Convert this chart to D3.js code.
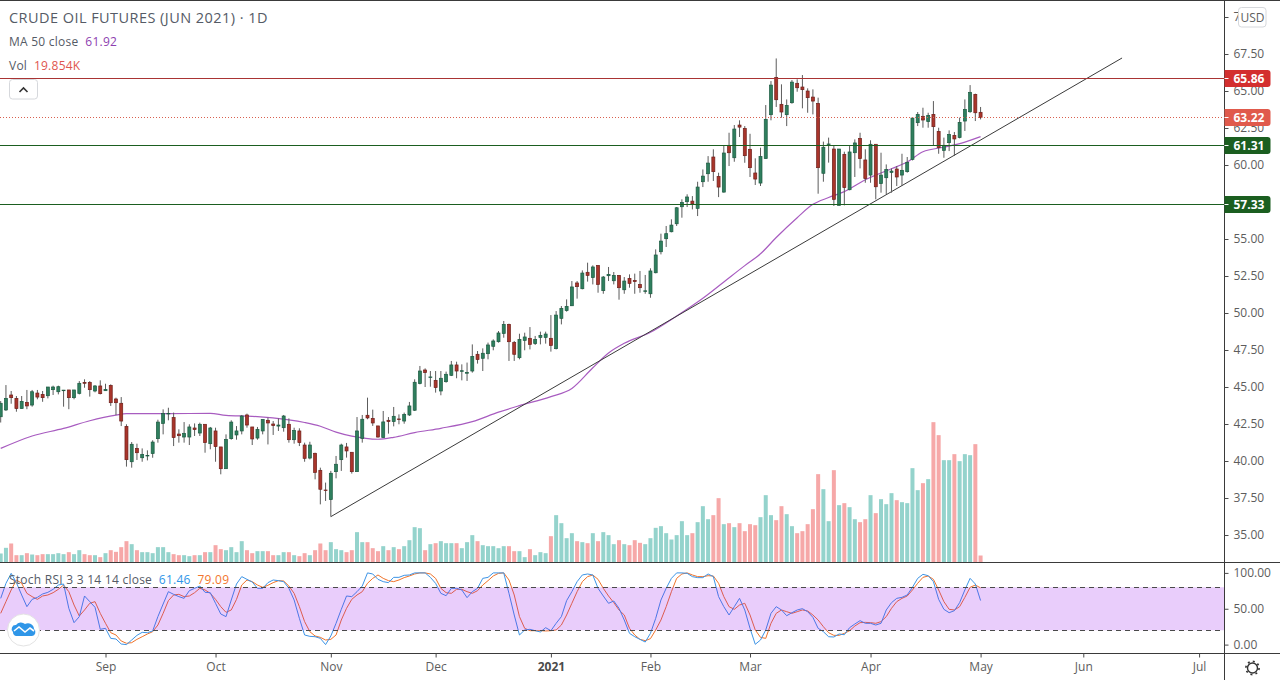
<!DOCTYPE html>
<html>
<head>
<meta charset="utf-8">
<title>Crude Oil Futures</title>
<script src="https://cdnjs.cloudflare.com/ajax/libs/d3/7.8.5/d3.min.js"></script>
<style>
  html, body { margin: 0; padding: 0; background: #fff; }
  svg { display: block; }
  text { font-family: "Open Sans", sans-serif; }
</style>
</head>
<body>
<svg id="chart" width="1280" height="680"></svg>
<script>
// daily bars
const opens = [42.99,43.45,44.46,44.23,43.54,43.96,43.78,44.59,44.5,44.41,44.82,44.68,44.78,44.8,44.28,44.57,45.31,45.31,44.73,45.07,
  44.75,45.11,44.19,43.9,42.34,39.95,40.85,40.22,40.37,40.5,41.51,42.54,43.18,42.93,41.82,41.62,41.62,42.23,41.89,42.48,
  41.17,42.03,40.95,39.48,41.51,41.76,42.03,43.11,42.3,41.55,42.03,42.75,42.5,42.36,42.25,42.48,41.44,42.03,41.08,40.2,
  40.52,39.37,38.04,37.39,39.28,40.09,40.95,40.59,39.28,41.53,43.09,42.88,42.37,41.58,42.75,42.66,42.84,42.7,43.11,43.43,
  45.23,46.15,45.66,45.45,44.73,45.36,45.79,46.49,46.07,45.95,46.08,47.21,46.94,47.25,47.75,48.06,48.62,49.23,48.0,46.98,
  48.15,48.29,47.93,48.35,48.35,48.29,47.59,49.64,50.16,50.49,52.03,51.64,52.75,52.39,53.22,51.51,52.52,52.18,52.54,51.57,
  52.34,52.2,51.93,51.49,51.3,52.72,54.14,55.02,55.49,56.03,57.18,57.52,57.56,57.07,58.87,59.41,60.54,59.23,58.17,61.33,
  60.49,62.7,62.47,61.06,59.46,58.78,60.43,63.4,65.92,64.1,63.4,64.21,65.52,65.27,65.0,64.59,64.16,59.44,61.4,61.08,
  57.27,60.72,58.33,60.83,61.8,60.34,59.32,61.4,58.74,59.14,59.5,59.73,59.32,59.55,60.38,62.86,63.29,62.93,63.42,62.27,
  60.99,61.51,62.0,61.85,62.97,63.6,64.77,63.56];
const highs = [44.05,45.13,44.73,44.39,44.39,44.8,44.8,44.8,44.73,45.0,45.09,45.09,44.8,44.8,44.8,45.4,45.52,45.4,45.13,45.45,
  45.22,45.18,44.28,44.32,42.48,41.28,41.17,40.85,40.72,41.4,42.79,43.49,43.6,43.27,42.14,42.63,42.48,42.54,42.59,42.48,
  42.3,42.25,40.95,41.8,42.75,42.36,43.11,43.2,42.3,42.3,42.81,42.93,42.7,42.88,43.11,42.88,42.25,42.21,41.24,41.3,
  40.56,39.55,38.54,39.33,40.34,41.17,41.22,40.59,42.97,43.11,44.28,43.47,42.37,43.38,42.97,43.65,43.15,43.27,43.99,45.52,
  46.42,46.26,46.08,46.08,46.08,46.04,46.76,46.71,46.53,46.65,47.88,47.43,47.61,48.0,48.22,48.78,49.46,49.28,48.11,48.6,
  48.67,49.05,48.45,48.74,48.74,49.86,50.13,50.47,50.92,52.16,52.16,52.88,53.4,53.22,53.22,52.5,53.11,52.77,52.57,52.43,
  52.61,52.66,52.84,52.57,53.02,54.3,55.36,55.88,56.33,57.16,57.68,58.02,57.9,58.87,59.7,60.6,61.06,59.48,61.35,62.18,
  62.7,63.02,62.63,62.11,60.45,61.17,64.05,65.67,67.2,65.45,64.43,65.74,65.79,66.08,65.18,65.11,64.55,61.58,61.85,61.35,
  61.08,60.9,61.28,61.73,62.18,61.06,61.67,61.4,60.83,60.04,59.77,59.93,60.76,60.54,63.24,63.58,63.87,63.53,64.32,62.52,
  61.85,62.34,62.23,63.2,64.43,65.4,64.82,63.92];
const lows = [42.6,43.38,43.87,43.33,43.54,43.5,43.67,44.17,44.0,44.23,44.46,44.5,43.67,43.5,44.17,44.5,44.95,44.35,44.64,44.5,
  44.73,43.72,43.1,42.36,39.62,39.55,40.07,39.95,40.04,40.22,41.24,41.8,42.75,41.01,41.24,41.24,41.08,41.69,41.69,40.56,
  40.79,39.95,39.1,39.48,41.44,41.44,41.8,42.25,41.08,41.44,41.8,41.12,41.76,42.03,41.98,41.24,41.17,41.01,39.95,40.11,
  38.76,37.07,37.3,36.24,38.83,39.33,40.23,39.15,39.28,41.24,42.82,42.37,41.58,41.58,41.85,42.34,42.48,42.52,43.04,43.38,
  45.18,45.0,45.02,44.62,44.44,45.29,45.74,45.59,45.45,45.41,45.97,46.58,46.08,46.87,47.48,48.0,48.33,46.76,46.76,46.87,
  47.48,47.54,47.84,47.88,47.93,47.39,47.54,49.23,50.09,50.47,50.97,51.6,52.12,51.93,51.37,51.3,52.16,51.93,50.9,51.3,
  51.71,51.3,51.37,51.3,51.03,52.68,53.96,54.46,55.45,55.88,56.44,57.16,57.0,56.55,58.51,58.87,58.92,57.83,58.13,59.93,
  60.22,61.89,60.15,59.19,58.65,58.58,60.43,63.02,63.92,63.2,62.63,64.14,64.95,63.83,63.53,63.42,58.06,58.87,60.16,57.23,
  57.27,57.27,58.29,59.19,59.77,58.8,58.8,57.68,58.13,58.02,58.13,58.58,58.58,59.48,60.31,62.63,62.52,62.52,61.35,60.76,
  60.49,60.94,60.61,61.8,62.3,63.53,62.97,63.08];
const closes = [43.9,44.23,44.28,43.54,44.03,43.72,44.68,44.32,44.28,45.0,45.0,45.02,44.79,44.28,44.8,45.25,45.25,44.82,45.07,44.55,
  44.84,43.94,43.94,42.7,40.09,41.13,40.56,40.45,40.38,41.28,42.63,43.22,43.22,41.58,41.71,41.87,42.3,42.12,42.48,41.24,
  42.23,40.97,39.48,41.46,42.63,42.03,43.04,42.43,41.49,42.14,42.81,42.57,42.39,42.43,43.04,41.44,42.07,41.24,40.18,41.08,
  39.23,38.09,38.0,39.17,39.78,41.08,40.68,39.28,42.03,42.82,42.91,42.57,41.62,42.64,42.66,43.02,42.82,43.15,43.72,45.32,
  46.08,45.97,45.68,44.96,45.59,45.86,46.49,46.08,46.1,45.97,47.07,46.85,47.28,47.84,48.11,48.65,49.23,48.06,47.21,48.22,
  48.38,47.88,48.22,48.49,48.58,47.81,49.86,50.31,50.45,51.76,51.78,52.7,52.54,53.11,51.93,52.43,52.61,52.54,51.71,52.16,
  52.0,52.12,51.71,51.5,52.84,53.92,54.86,55.36,55.94,57.11,57.47,57.84,57.38,58.51,59.25,60.13,59.55,58.51,60.81,60.83,
  62.43,62.56,60.63,59.82,59.05,60.58,63.08,65.4,64.41,63.58,64.03,65.6,65.22,65.09,64.55,64.32,59.82,61.2,61.42,57.68,
  61.08,58.47,60.88,61.49,60.43,59.08,61.4,58.53,59.32,59.7,59.59,59.19,59.64,60.18,63.17,63.42,63.04,63.35,62.59,61.17,
  61.33,62.07,61.76,62.88,63.76,64.91,63.53,63.22];
// volume in thousands
const volumes = [25.6,41.7,54,20.8,20.8,26.5,22.7,20.8,23.7,23.7,23.7,26.5,23.7,29.4,23.7,35,23.7,20.8,20.8,15.2,
  26.5,35,30.3,43.6,60.6,52.1,35,29.4,29.4,26.5,43.6,43.6,29.4,23.7,20.8,20.8,18,20.8,20.8,29.4,
  29.4,49.2,37.9,35,43.6,29.4,60.6,35,26.5,32.2,32.2,32.2,20.8,20.8,29.4,29.4,20.8,18,26.5,20.8,
  35,54,35,57.8,37.9,35,29.4,35,86.2,57.8,57.8,40.7,32.2,46.4,35,43.6,37.9,46.4,63.4,100.4,
  97.5,35,52.1,54.9,60.6,54.9,54.9,54.9,40.7,57.8,77.7,60.6,49.2,46.4,46.4,40.7,46.4,46.4,32.2,32.2,
  15.2,37.9,20.8,29.4,26.5,74.8,134.5,111.7,69.1,83.3,60.6,57.8,54.9,83.3,60.6,86.2,77.7,52.1,63.4,52.1,
  49.2,63.4,55.9,52.1,69.1,98.5,103.2,83.3,65.3,77.7,117.4,77.7,83.3,114.6,160,123,134.5,182.8,108.9,111.7,
  100.4,111.7,89,108.9,106,128.8,191.3,134.5,120.3,160,137.3,103.2,83.3,89,108.9,151.5,251,208.3,117.4,262.3,
  162.9,168.6,157.2,123,114.6,123,191.3,140.2,179.9,165.7,197,177.1,171.4,168.6,268,205.5,225.4,236.8,398.7,361.8,
  290.7,290.7,307.8,287.9,307.8,304.9,336.2,19.854];
// MA 50, read at these bars
const maBars = [0,6,12,17,22,24,32,40,43,48,55,58,61,64,67,72,75,79,84,90,95,99,105,109,113,116,119,124,129,134,138,142,145,148,152,155,158,161,165,170,173,176,180,184,187];
const maValues = [40.85,41.69,42.2,42.72,43.1,43.2,43.2,43.22,43.08,43.02,42.78,42.6,42.35,41.95,41.68,41.47,41.6,41.92,42.21,42.66,43.3,43.74,44.35,44.9,46.3,47.3,47.95,48.7,49.8,51.0,52.1,53.2,54.0,55.1,56.44,57.34,57.8,58.2,59.0,59.75,60.2,60.9,61.2,61.55,61.92];
// Stoch RSI
const stochK = [64.5,85.4,99.4,86.4,69.2,52.9,63.1,65.9,70.6,72.9,77.1,83.1,84.5,50.6,30.6,39,67.8,59.9,52,21.3,
  22.7,8.7,7.8,0.8,0,6.4,12.9,17.1,16.6,19,39,56.6,73.8,70.1,66.9,64.5,75.2,78.5,81.7,72.9,
  72.4,57.6,42.7,39,62.2,84.5,94.8,91,87.3,78.5,78.5,86.4,90.1,89.2,87.8,78.5,62.2,36.6,13.4,11.5,
  11,8.7,0,12,29.7,49.2,67.8,66.9,73.8,81.7,100,98.5,91,87.8,86.4,93.8,93.8,96.6,97.1,100,
  100,100,93.8,85.4,71.5,68.2,78.5,78.5,76.2,65.5,73.8,78.5,92.4,93.8,100,100,100,71.5,41.3,13.4,
  20.4,21.3,19.4,17.6,23.6,19.4,29.7,39,61.3,73.8,87.8,97.1,98.5,97.1,78.5,67.8,57.6,60.8,50.6,34.3,
  15.7,11,7.3,3.6,15.7,36.6,62.2,78.5,92.4,100,100,99.4,94.8,93.4,93.4,98.5,94.8,66.9,52.9,41.3,
  52.9,64.5,48.3,22.7,0.4,6.4,20.4,43.6,52.9,48.3,40.3,44.5,48.3,50.1,45.9,38,22.7,18,11,10.6,
  14.8,13.8,23.6,28.7,33.4,29.7,29.7,27.3,29.7,48.3,58.5,64.5,65.9,69.2,79.9,92.4,98,96.1,87.8,63.1,
  49.2,44.5,47.3,58.5,76.2,92.4,84.5,61.46];
const stochD = [43.6,59.9,76.2,90.1,85.5,71.5,66.9,63.1,67.8,69.2,72.4,77.1,83.1,73.8,55.2,39.9,48.3,57.6,59.9,43.6,
  29.7,16.6,13.4,5,1.8,2.7,7.3,11,14.8,18,27.3,43.6,61.3,69.2,70.1,66.9,67.8,72.4,78.5,76.2,
  71.5,63.1,52.9,45,48.3,63.1,83.1,90.1,87.8,83.1,79.9,82.7,86.4,89.2,88.7,81.7,71.5,52.9,32,18,
  12,10.1,6.4,7.3,13.4,34.3,50.6,63.1,69.2,73.8,85.5,92.4,97.1,92.4,89.2,87.8,90.1,93.4,95.7,98.5,
  100,100,98.5,92.4,78.5,72.4,71.5,77.1,77.1,73.8,71.5,75.2,83.1,89.2,95.7,99.4,100,90.1,69.2,39,
  22.7,19.4,19.4,19.4,19,19.4,20.4,27.3,41.3,57.6,73.8,87.8,94.8,97.1,91,78.5,67.8,58.5,48.3,41.3,
  22.7,13.4,7.3,5.5,8.3,20.4,34.3,52.9,73.8,92.4,98.5,100,97.1,94.8,94.8,96.1,95.7,85.5,66.9,52.9,
  49.2,55.2,57.6,41.3,20.4,10.1,8.7,29.7,43.6,48.3,45.9,43.6,45.9,48.3,46.9,41.3,34.3,25,16.6,12.9,
  12.9,15.7,19.4,25.9,30.6,31,30.6,29.7,32,39,50.6,59.9,64.5,67.8,76.2,85.5,93.8,95.7,91,76.2,
  59.9,49.2,48.3,52.9,65.9,79.9,83.1,79.09];

// axis ticks
const priceTicks = [35,37.5,40,42.5,45,47.5,50,52.5,55,57.5,60,62.5,65,67.5,70];
const stochTicks = [0,50,100];
const stochLevels = [80,20];
const timeTickBars = [20,41,63,83,105,124,143,166,187,206.6,228.7];
const timeTickLabels = ['Sep','Oct','Nov','Dec','2021','Feb','Mar','Apr','May','Jun','Jul'];

// drawn lines and their badges
const levelValues = [65.86,61.31,57.33];
const levelColors = ['#a93434','#1b5e20','#1b5e20'];
const badgeColors = ['#d32f2f','#1b5e20','#1b5e20'];
const lastPrice = 63.22;
const trendBars = [63,214];
const trendValues = [36.24,67.23];

const paneRight = 1224.5;
const upColor = '#2f7f5e', upEdge = '#1c5a41';
const downColor = '#a9352b', downEdge = '#6e1f1a';
const upVol = '#94d3cc', downVol = '#f6a8a8';

const svg = d3.select('#chart');

const x = d3.scaleLinear().domain([0, 244]).range([0.7, 1279.26]);
const yPrice = d3.scaleLinear().domain([35, 67.5]).range([535, 54]);
const yVol = d3.scaleLinear().domain([0, 400]).range([562.5, 421.7]);
const yStoch = d3.scaleLinear().domain([0, 100]).range([644.6, 572.9]);
// keep thin horizontal lines on a whole pixel row
const snap = y => Math.floor(y) + 0.5;

const bars = opens.map((o, i) => ({ i, o, h: highs[i], l: lows[i], c: closes[i], v: volumes[i], up: closes[i] >= o }));

// Stoch RSI pane: lines first, the band tints them
const stochLine = d3.line().x((d, i) => x(i)).y(d => yStoch(d));
svg.append('path').attr('d', stochLine(stochD)).attr('fill', 'none').attr('stroke', '#f0732a').attr('stroke-width', 1);
svg.append('path').attr('d', stochLine(stochK)).attr('fill', 'none').attr('stroke', '#3d94e6').attr('stroke-width', 1);

svg.append('rect')
    .attr('x', 0)
    .attr('y', yStoch(stochLevels[0]))
    .attr('width', paneRight)
    .attr('height', yStoch(stochLevels[1]) - yStoch(stochLevels[0]))
    .attr('fill', 'rgb(145,5,235)')
    .attr('fill-opacity', 0.2);

svg.selectAll('.stoch-level')
    .data(stochLevels)
    .enter().append('line')
    .attr('class', 'stoch-level')
    .attr('x1', 0)
    .attr('x2', paneRight)
    .attr('y1', d => snap(yStoch(d)))
    .attr('y2', d => snap(yStoch(d)))
    .attr('stroke', '#4a4a4a')
    .attr('stroke-dasharray', '5,4');

// volume
svg.selectAll('.vol')
    .data(bars)
    .enter().append('rect')
    .attr('class', 'vol')
    .attr('x', d => x(d.i) - 2)
    .attr('y', d => yVol(d.v))
    .attr('width', 4)
    .attr('height', d => yVol(0) - yVol(d.v))
    .attr('fill', d => d.up ? upVol : downVol);

// MA 50
const maLine = d3.line().x(d => x(d[0])).y(d => yPrice(d[1])).curve(d3.curveMonotoneX);
svg.append('path')
    .attr('d', maLine(maBars.map((b, i) => [b, maValues[i]])))
    .attr('fill', 'none')
    .attr('stroke', '#a85cc0')
    .attr('stroke-width', 1.2);

// trend line
svg.append('line')
    .attr('x1', x(trendBars[0]))
    .attr('y1', yPrice(trendValues[0]))
    .attr('x2', x(trendBars[1]))
    .attr('y2', yPrice(trendValues[1]))
    .attr('stroke', '#3b3b3b')
    .attr('stroke-width', 1);

// candles
const candle = svg.selectAll('.candle')
    .data(bars)
    .enter().append('g')
    .attr('class', 'candle');

candle.append('line')
    .attr('x1', d => x(d.i))
    .attr('x2', d => x(d.i))
    .attr('y1', d => yPrice(d.h))
    .attr('y2', d => yPrice(d.l))
    .attr('stroke', '#5c5c5c');

candle.append('rect')
    .attr('x', d => x(d.i) - 1.5)
    .attr('y', d => yPrice(Math.max(d.o, d.c)))
    .attr('width', 3)
    .attr('height', d => Math.max(0.6, Math.abs(yPrice(d.o) - yPrice(d.c))))
    .attr('fill', d => d.up ? upColor : downColor)
    .attr('stroke', d => d.up ? upEdge : downEdge)
    .attr('stroke-width', 0.7);

// horizontal levels
svg.selectAll('.level')
    .data(levelValues)
    .enter().append('line')
    .attr('class', 'level')
    .attr('x1', 0)
    .attr('x2', paneRight)
    .attr('y1', d => snap(yPrice(d)))
    .attr('y2', d => snap(yPrice(d)))
    .attr('stroke', (d, i) => levelColors[i]);

svg.append('line')
    .attr('x1', 0)
    .attr('x2', paneRight)
    .attr('y1', snap(yPrice(lastPrice)))
    .attr('y2', snap(yPrice(lastPrice)))
    .attr('stroke', '#d9604f')
    .attr('stroke-dasharray', '1,2');

// frame
const frameColor = '#3a3a3a';
svg.append('line').attr('x1', 0).attr('x2', 1280).attr('y1', 0.5).attr('y2', 0.5).attr('stroke', frameColor);
svg.append('line').attr('x1', 0).attr('x2', 1280).attr('y1', 562.5).attr('y2', 562.5).attr('stroke', frameColor);
svg.append('line').attr('x1', 0).attr('x2', 1280).attr('y1', 653.5).attr('y2', 653.5).attr('stroke', frameColor);
svg.append('line').attr('x1', paneRight).attr('x2', paneRight).attr('y1', 0).attr('y2', 680).attr('stroke', frameColor);

// axes
function styleAxis(g) {
    g.select('.domain').remove();
    g.selectAll('line').attr('stroke', '#4a4a4a');
    g.selectAll('text').attr('fill', '#5d5d5d').attr('font-size', 12);
}

svg.append('g')
    .attr('transform', `translate(${paneRight},0)`)
    .call(d3.axisRight(yPrice).tickValues(priceTicks).tickFormat(d3.format('.2f')).tickSize(4).tickPadding(5))
    .call(styleAxis);

svg.append('g')
    .attr('transform', `translate(${paneRight},0)`)
    .call(d3.axisRight(yStoch).tickValues(stochTicks).tickFormat(d3.format('.2f')).tickSize(4).tickPadding(5))
    .call(styleAxis);

const timeAxis = svg.append('g')
    .attr('transform', 'translate(0,653.5)')
    .call(d3.axisBottom(x).tickValues(timeTickBars).tickFormat((d, i) => timeTickLabels[i]).tickSize(4).tickPadding(5))
    .call(styleAxis);
timeAxis.selectAll('text').filter(d => d === 105).attr('font-weight', 'bold').attr('fill', '#4a4a4a');

// price badges
const badges = levelValues.map((v, i) => ({ v, color: badgeColors[i] })).concat([{ v: lastPrice, color: '#e05a4c' }]);
const badge = svg.selectAll('.badge')
    .data(badges)
    .enter().append('g')
    .attr('class', 'badge')
    .attr('transform', d => `translate(${paneRight},${snap(yPrice(d.v))})`);

badge.append('path')
    .attr('d', 'M0,-8.5H43a3,3 0 0 1 3,3V5.5a3,3 0 0 1 -3,3H0Z')
    .attr('fill', d => d.color);
badge.append('line').attr('x1', 0).attr('x2', 4).attr('stroke', '#fff');
badge.append('text')
    .attr('x', 9)
    .attr('dy', '0.35em')
    .attr('fill', '#fff')
    .attr('font-size', 12)
    .attr('font-weight', 'bold')
    .text(d => d3.format('.2f')(d.v));

// currency box
svg.append('rect').attr('x', 1238.5).attr('y', 7.5).attr('width', 27.5).attr('height', 19.5).attr('rx', 3)
    .attr('fill', '#fff').attr('stroke', '#d6d8dc');
svg.append('text').attr('x', 1252.5).attr('y', 21.5).attr('text-anchor', 'middle')
    .attr('fill', '#5d5d5d').attr('font-size', 12).text('USD');

// legends
const labelGrey = '#555b66';
function legend(xPos, yPos, parts, size) {
    const t = svg.append('text').attr('x', xPos).attr('y', yPos).attr('font-size', size)
        .attr('letter-spacing', 0.25).attr('xml:space', 'preserve');
    parts.forEach(p => t.append('tspan').attr('fill', p[1]).text(p[0]));
}
svg.append('text').attr('x', 9).attr('y', 23).attr('font-size', 14.5).attr('fill', labelGrey)
    .attr('letter-spacing', 0.45).text('CRUDE OIL FUTURES (JUN 2021) · 1D');
legend(9, 46, [['MA 50 close  ', labelGrey], ['61.92', '#8e3fb0']], 12);
legend(9, 70, [['Vol  ', labelGrey], ['19.854K', '#e0564f']], 12);
legend(9, 584, [['Stoch RSI 3 3 14 14 close  ', labelGrey], ['61.46', '#2f96e8'], ['  ', labelGrey], ['79.09', '#f2762e']], 12);

// collapse button
svg.append('rect').attr('x', 9.5).attr('y', 79.5).attr('width', 28).attr('height', 19.5).attr('rx', 3)
    .attr('fill', '#fff').attr('stroke', '#d6d8dc');
svg.append('path').attr('d', 'M19.5,92L23.5,88L27.5,92').attr('fill', 'none').attr('stroke', '#333').attr('stroke-width', 1.6);

// logo
svg.append('circle').attr('cx', 23.5).attr('cy', 630).attr('r', 16).attr('fill', '#fff').attr('stroke', '#e3e3e3');
svg.append('path')
    .attr('d', 'M13,632a4,4 0 0 1 3,-7a6,6 0 0 1 9,-1a6,6 0 0 1 9,5a4,4 0 0 1 -2,7H16a4,4 0 0 1 -3,-4Z')
    .attr('fill', '#2f96e8');
svg.append('path')
    .attr('d', 'M14,631L19,627L25,632L30,628L34,631')
    .attr('fill', 'none').attr('stroke', '#fff').attr('stroke-width', 1.6);

// settings gear
svg.append('circle').attr('cx', 1252.5).attr('cy', 668).attr('r', 5).attr('fill', 'none').attr('stroke', '#333').attr('stroke-width', 1.4);
svg.append('circle').attr('cx', 1252.5).attr('cy', 668).attr('r', 6.6).attr('fill', 'none').attr('stroke', '#333').attr('stroke-width', 1.6).attr('stroke-dasharray', '2,3.2');
</script>
</body>
</html>
